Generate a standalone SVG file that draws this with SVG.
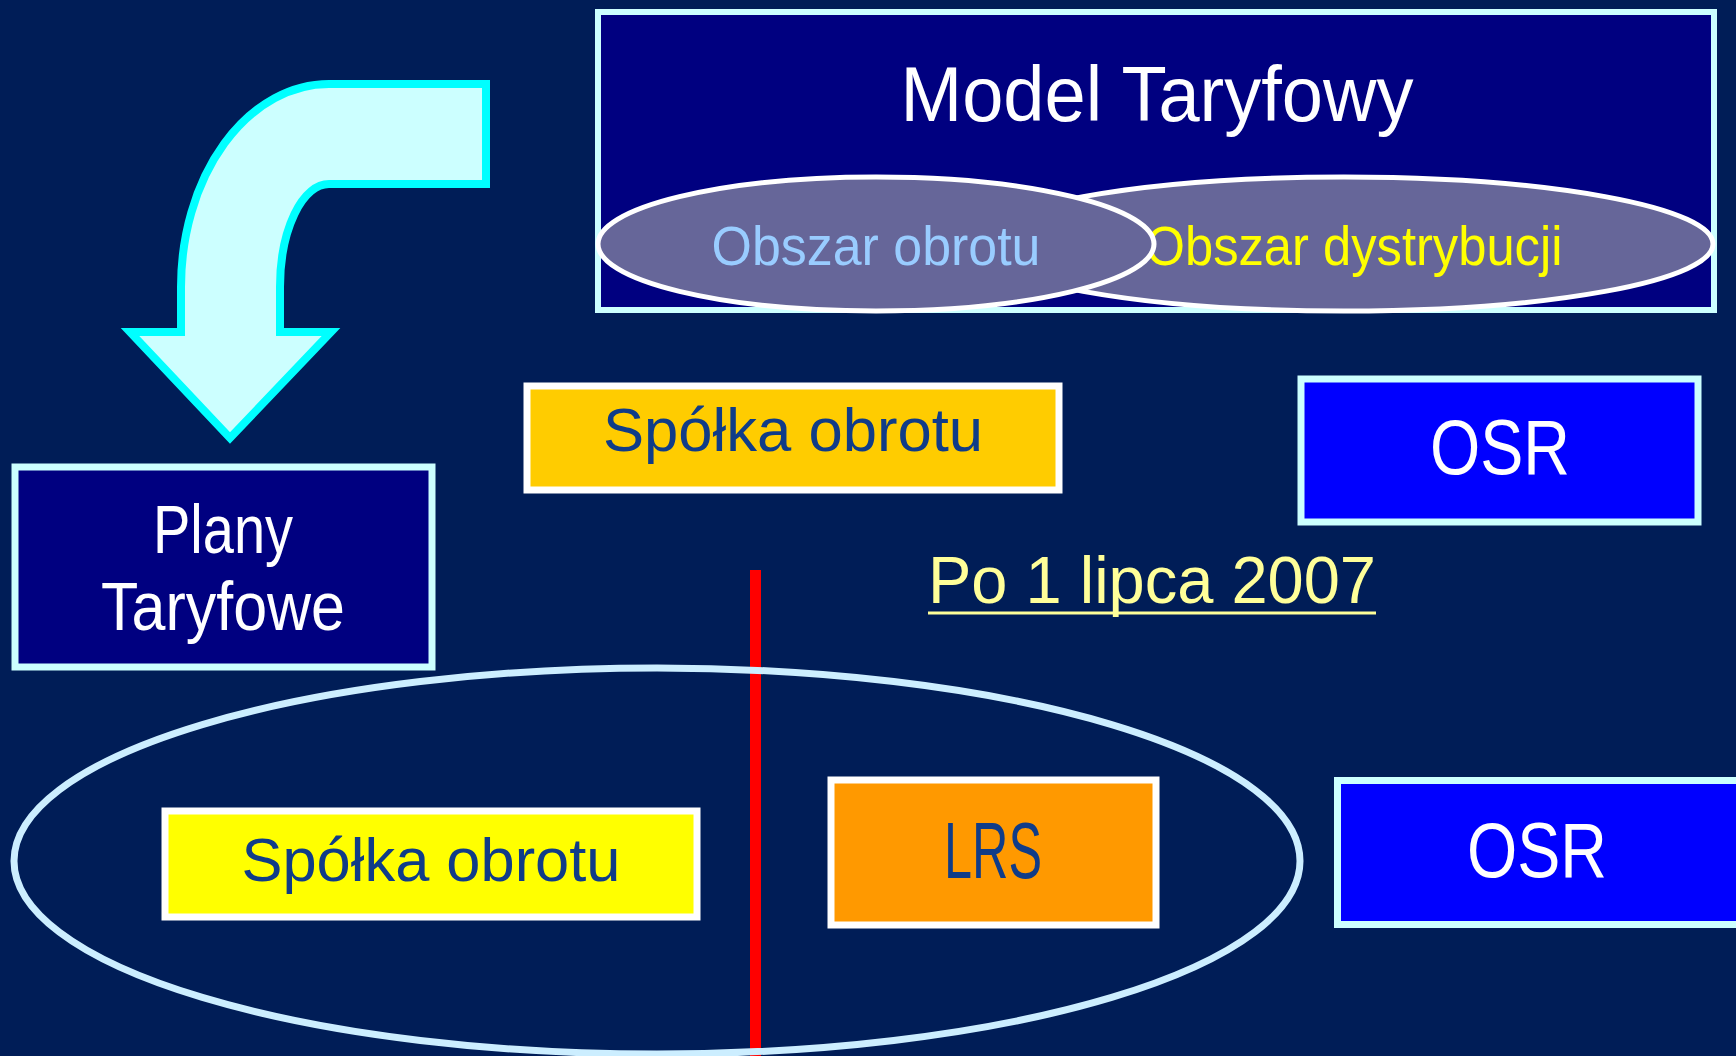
<svg xmlns="http://www.w3.org/2000/svg" width="1736" height="1056" viewBox="0 0 1736 1056">
<style>
text{font-family:"Liberation Sans","DejaVu Sans",sans-serif;text-anchor:middle;}
.w{fill:#ffffff}
.db{fill:#103c88}
.boxw{stroke:#ffffff;stroke-width:7}
.boxc{stroke:#ccffff;stroke-width:7}
</style>
<rect x="0" y="0" width="1736" height="1056" fill="#001d57"/>

<g id="model-taryfowy">
<rect x="598" y="12" width="1116" height="298" fill="#000080" stroke="#ccffff" stroke-width="6"/>
<text class="w" x="1157" y="121" font-size="78" textLength="513" lengthAdjust="spacingAndGlyphs">Model Taryfowy</text>
</g>

<g id="obszar-dystrybucji">
<ellipse cx="1344" cy="244" rx="369" ry="67" fill="#666699" stroke="#ffffff" stroke-width="5"/>
<text x="1354" y="265" font-size="56" fill="#ffff00" textLength="417" lengthAdjust="spacingAndGlyphs">Obszar dystrybucji</text>
</g>

<g id="obszar-obrotu">
<ellipse cx="876" cy="244" rx="278" ry="67" fill="#666699" stroke="#ffffff" stroke-width="5"/>
<text x="876" y="265" font-size="56" fill="#99ccff" textLength="329" lengthAdjust="spacingAndGlyphs">Obszar obrotu</text>
</g>

<g id="arrow">
<path d="M 486 84 L 329 84 A 148 203 0 0 0 181 287 L 181 332 L 130 332 L 230 438 L 331 332 L 280 332 L 280 287 A 49 103 0 0 1 329 184 L 486 184 Z" fill="#ccffff" stroke="#00ffff" stroke-width="8"/>
</g>

<g id="plany-taryfowe">
<rect x="15" y="467" width="417" height="200" fill="#000080" class="boxc"/>
<text class="w" x="223" y="553" font-size="68" textLength="140" lengthAdjust="spacingAndGlyphs">Plany</text>
<text class="w" x="223" y="630" font-size="68" textLength="244" lengthAdjust="spacingAndGlyphs">Taryfowe</text>
</g>

<g id="spolka-obrotu-top">
<rect x="527" y="386" width="532" height="104" fill="#ffcc00" class="boxw"/>
<text class="db" x="793" y="451" font-size="62" textLength="380" lengthAdjust="spacingAndGlyphs">Spółka obrotu</text>
</g>

<g id="osr-top">
<rect x="1301" y="379" width="397" height="143" fill="#0000ff" class="boxc"/>
<text class="w" x="1500" y="474" font-size="77" textLength="140" lengthAdjust="spacingAndGlyphs">OSR</text>
</g>

<g id="po-1-lipca">
<text x="1152" y="603" font-size="67" fill="#ffff99" textLength="448" lengthAdjust="spacingAndGlyphs">Po 1 lipca 2007</text>
<line x1="928" y1="613" x2="1376" y2="613" stroke="#ffff99" stroke-width="3"/>
</g>

<g id="connectors">
<line x1="755.5" y1="570" x2="755.5" y2="1056" stroke="#ff0000" stroke-width="11"/>
</g>

<g id="grupa">
<ellipse cx="657" cy="861" rx="643" ry="193" fill="none" stroke="#cceeff" stroke-width="7"/>
</g>

<g id="spolka-obrotu-bottom">
<rect x="165" y="811" width="532" height="106" fill="#ffff00" class="boxw"/>
<text class="db" x="431" y="881" font-size="62" textLength="379" lengthAdjust="spacingAndGlyphs">Spółka obrotu</text>
</g>

<g id="lrs">
<rect x="831" y="780" width="325" height="145" fill="#ff9900" class="boxw"/>
<text class="db" x="993" y="878" font-size="79" textLength="98" lengthAdjust="spacingAndGlyphs">LRS</text>
</g>

<g id="osr-bottom">
<rect x="1337.5" y="780.5" width="402" height="144" fill="#0000ff" class="boxc"/>
<text class="w" x="1537" y="877" font-size="77" textLength="140" lengthAdjust="spacingAndGlyphs">OSR</text>
</g>
</svg>
